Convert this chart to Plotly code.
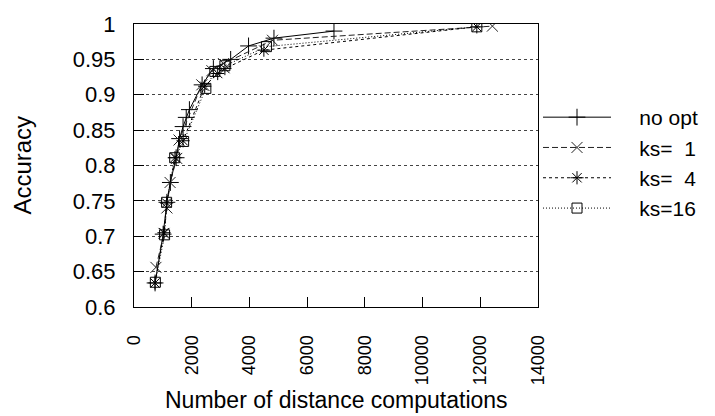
import plotly.graph_objects as go

# Accuracy vs. number of distance computations for each search variant
no_opt_x = [730, 1010, 1140, 1260, 1460, 1580, 1700, 1810, 1920, 2360, 2750, 3350, 3970, 4850, 6930]
no_opt_y = [0.634, 0.703, 0.748, 0.776, 0.811, 0.838, 0.855, 0.868, 0.879, 0.914, 0.937, 0.950, 0.969, 0.980, 0.990]

ks1_x = [760, 1040, 1140, 1250, 1480, 1560, 2350, 2700, 3100, 4800, 12420]
ks1_y = [0.656, 0.704, 0.740, 0.776, 0.810, 0.836, 0.914, 0.934, 0.944, 0.977, 0.997]

ks4_x = [727, 1040, 1130, 1420, 1700, 2450, 2900, 3150, 4500, 11880]
ks4_y = [0.634, 0.705, 0.747, 0.811, 0.835, 0.912, 0.930, 0.937, 0.963, 0.996]

ks16_x = [740, 1060, 1130, 1410, 1720, 2490, 2800, 3150, 4590, 11880]
ks16_y = [0.635, 0.702, 0.748, 0.811, 0.834, 0.909, 0.933, 0.941, 0.968, 0.996]

series_names = ["no opt", "ks=\u00a0\u00a01", "ks=\u00a0\u00a04", "ks=16"]

x_ticks = [0, 2000, 4000, 6000, 8000, 10000, 12000, 14000]
y_ticks = [0.6, 0.65, 0.7, 0.75, 0.8, 0.85, 0.9, 0.95, 1.0]
y_tick_text = ["0.6", "0.65", "0.7", "0.75", "0.8", "0.85", "0.9", "0.95", "1"]

FONT = "Liberation Sans, Arial, sans-serif"
PAD = "\u00a0" * 4  # gap between legend sample and its label

styles = [
    dict(dash="solid", symbol="cross-thin-open", size=12, color="#000000"),
    dict(dash="6px,3px", symbol="x-thin-open", size=11, color="#222222"),
    dict(dash="3px,3px", symbol="asterisk-open", size=11, color="#000000"),
    dict(dash="1px,2px", symbol="square-open", size=10, color="#000000"),
]

fig = go.Figure()
for (xs, ys), name, st in zip(
    [(no_opt_x, no_opt_y), (ks1_x, ks1_y), (ks4_x, ks4_y), (ks16_x, ks16_y)],
    series_names, styles,
):
    fig.add_trace(go.Scatter(
        x=xs, y=ys, name=PAD + name, mode="lines+markers",
        line=dict(color=st["color"], width=1, dash=st["dash"]),
        marker=dict(symbol=st["symbol"], size=st["size"], color=st["color"],
                    line=dict(color=st["color"], width=1)),
    ))

fig.update_layout(
    width=715, height=416,
    margin=dict(l=134, r=171, t=19, b=109),
    paper_bgcolor="white", plot_bgcolor="white",
    font=dict(family=FONT, size=21, color="black"),
    showlegend=True,
    legend=dict(
        x=1.0, xanchor="left", y=0.742, yanchor="top",
        bgcolor="rgba(0,0,0,0)", borderwidth=0,
        itemwidth=68, tracegroupgap=0,
        font=dict(family=FONT, size=21, color="black"),
    ),
    xaxis=dict(
        range=[0, 14000], tickvals=x_ticks, ticktext=[str(v) for v in x_ticks],
        tickangle=-90, ticks="inside", ticklen=10, tickcolor="black",
        showline=True, linecolor="black", linewidth=1, mirror=True,
        showgrid=False, zeroline=False, ticklabelstandoff=20,
        tickfont=dict(family=FONT, size=18),
    ),
    yaxis=dict(
        range=[0.6, 1.0], tickvals=y_ticks, ticktext=y_tick_text,
        ticks="inside", ticklen=10, tickcolor="black",
        showline=True, linecolor="black", linewidth=1, mirror=True,
        showgrid=True, gridcolor="#444444", griddash="dot", gridwidth=1,
        zeroline=False, ticklabelstandoff=13,
        tickfont=dict(family=FONT, size=22),
    ),
    annotations=[
        dict(text="Number of distance computations", xref="paper", yref="paper",
             x=0.5, y=-0.327, xanchor="center", yanchor="middle", showarrow=False,
             font=dict(family=FONT, size=23)),
        dict(text="Accuracy", xref="paper", yref="paper",
             x=-0.277, y=0.5, xanchor="center", yanchor="middle", showarrow=False,
             textangle=-90, font=dict(family=FONT, size=24)),
    ],
)

fig.write_html("out.html")
